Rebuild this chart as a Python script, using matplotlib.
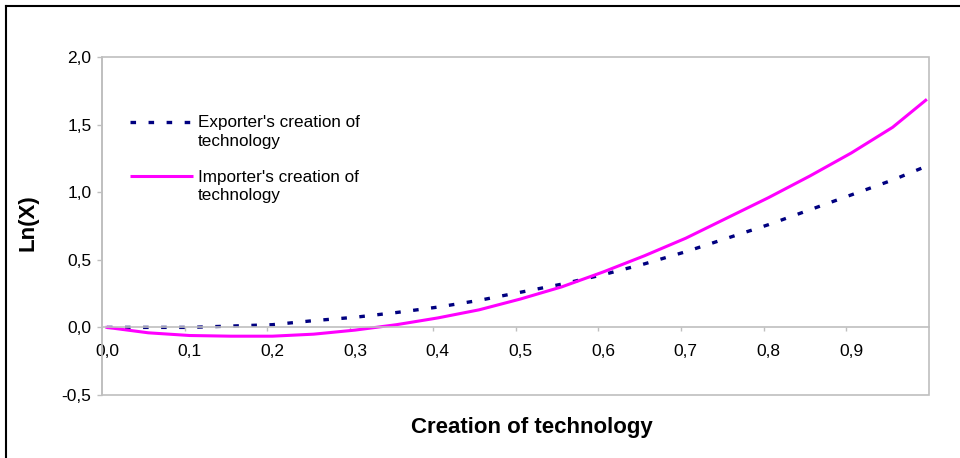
import matplotlib.pyplot as plt
from matplotlib.lines import Line2D
from matplotlib.patches import Rectangle

plt.rcParams["font.family"] = ["Liberation Sans", "DejaVu Sans"]
plt.rcParams["lines.scale_dashes"] = False

# --- data
creation = [0.00, 0.05, 0.10, 0.15, 0.20, 0.25, 0.30, 0.35, 0.40, 0.45, 0.50,
            0.55, 0.60, 0.65, 0.70, 0.75, 0.80, 0.85, 0.90, 0.95, 0.99]
exporter = [0.00, 0.00, 0.00, 0.01, 0.02, 0.05, 0.075, 0.11, 0.15, 0.20, 0.26,
            0.32, 0.39, 0.47, 0.56, 0.66, 0.76, 0.87, 0.98, 1.09, 1.19]
importer = [0.00, -0.04, -0.06, -0.065, -0.065, -0.05, -0.02, 0.02, 0.07, 0.13, 0.21,
            0.30, 0.41, 0.53, 0.66, 0.81, 0.96, 1.12, 1.29, 1.48, 1.68]

x_ticks = [0.0, 0.1, 0.2, 0.3, 0.4, 0.5, 0.6, 0.7, 0.8, 0.9]
x_labels = ["0,0", "0,1", "0,2", "0,3", "0,4", "0,5", "0,6", "0,7", "0,8", "0,9"]
y_ticks = [-0.5, 0.0, 0.5, 1.0, 1.5, 2.0]
y_labels = ["-0,5", "0,0", "0,5", "1,0", "1,5", "2,0"]

navy = "#000080"
magenta = "#FF00FF"
grey = "#BFBFBF"

fig = plt.figure(figsize=(9.6, 4.58), dpi=100)
ax = fig.add_axes([102 / 960, 1 - 395 / 458, 827 / 960, 338 / 458])

ax.plot(creation, exporter, color=navy, lw=2.4, dashes=(4, 9),
        dash_capstyle="butt", solid_capstyle="butt")
ax.plot(creation, importer, color=magenta, lw=2.2)

offset = -0.006
ax.set_xlim(offset, offset + 1.0)
ax.set_ylim(-0.5, 2.0)

# plot area border
ax.add_patch(Rectangle((0, 0), 1, 1, transform=ax.transAxes, fill=False,
                       edgecolor=grey, lw=1.2, clip_on=False, zorder=0))
for side in ["top", "right"]:
    ax.spines[side].set_visible(False)
ax.spines["left"].set_color(grey)
ax.spines["left"].set_linewidth(1.2)
ax.spines["bottom"].set_position(("data", 0))
ax.spines["bottom"].set_color(grey)
ax.spines["bottom"].set_linewidth(1.2)

ax.set_xticks(x_ticks)
ax.set_xticklabels(x_labels, fontsize=12.5)
ax.set_xticks([offset + 0.1 * k for k in range(1, 10)], minor=True)
ax.tick_params(axis="x", which="major", length=0, pad=12)
ax.tick_params(axis="x", which="minor", length=3, color=grey, width=1, direction="out")

ax.set_yticks(y_ticks)
ax.set_yticklabels(y_labels, fontsize=12.5)
ax.tick_params(axis="y", length=3.5, color=grey, width=1, direction="out", pad=4)

# legend drawn by hand (handle sits on the first text line)
def px_to_ax(px, py):
    return (px - 102) / 827, (395 - py) / 338

for (ly, ty), color, style, text in [
    ((122, 132), navy, dict(dashes=(4, 9), lw=2.4), "Exporter's creation of\ntechnology"),
    ((176, 186.5), magenta, dict(lw=2.2), "Importer's creation of\ntechnology"),
]:
    x0, y0 = px_to_ax(130, ly)
    x1, _ = px_to_ax(193, ly)
    ax.add_line(Line2D([x0, x1], [y0, y0], transform=ax.transAxes, color=color,
                       dash_capstyle="butt", solid_capstyle="butt", **style))
    tx, tyy = px_to_ax(198, ty)
    ax.text(tx, tyy, text, transform=ax.transAxes, fontsize=12.3, ha="left",
            va="center", linespacing=1.3)

fig.text(28 / 960, 1 - 223 / 458, "Ln(X)", rotation=90, ha="center", va="center",
         fontsize=16, fontweight="bold")
fig.text(532 / 960, 1 - 428 / 458, "Creation of technology", ha="center", va="center",
         fontsize=16, fontweight="bold")

# chart outer border
fig.add_artist(Line2D([6 / 960, 6 / 960], [0, 1 - 6 / 458], transform=fig.transFigure,
                      color="black", lw=1.5))
fig.add_artist(Line2D([6 / 960, 1], [1 - 6 / 458, 1 - 6 / 458], transform=fig.transFigure,
                      color="black", lw=1.5))

fig.savefig("out.png", dpi=100)
